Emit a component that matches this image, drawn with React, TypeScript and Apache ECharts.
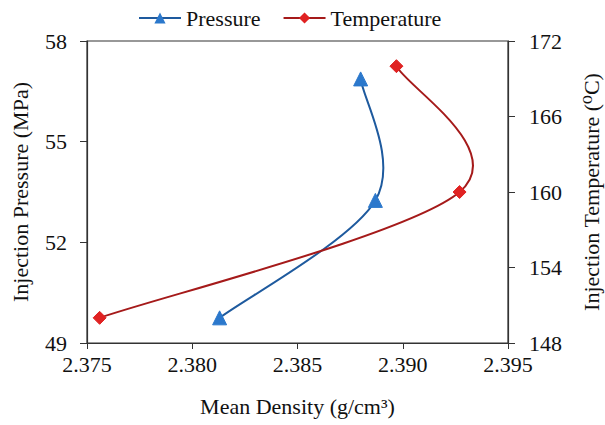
import React, { useEffect, useRef } from "react";
import * as echarts from "echarts";

const pressureDensity = [2.3813, 2.3887, 2.388];
const pressureValues = [49.75, 53.25, 56.87];
const temperatureDensity = [2.3756, 2.3927, 2.3897];
const temperatureValues = [150, 160, 170];
const xTicks = { min: 2.375, max: 2.395, interval: 0.005 };
const leftTicks = { min: 49, max: 58, interval: 3 };
const rightTicks = { min: 148, max: 172, interval: 6 };

const FONT = "Times New Roman, Liberation Serif, Tinos, DejaVu Serif, serif";

const PRESSURE_LINE = "#1E5A9E";
const PRESSURE_MARK = "#2B78CC";
const TEMP_LINE = "#A51A1A";
const TEMP_MARK = "#E02222";

// Excel-like smoothed curve through the points (pixel space)
function smoothPath(pts: number[][]): string {
  const n = pts.length;
  let d = `M${pts[0][0]},${pts[0][1]}`;
  for (let i = 0; i < n - 1; i++) {
    const p0 = pts[Math.max(0, i - 1)];
    const p1 = pts[i];
    const p2 = pts[i + 1];
    const p3 = pts[Math.min(n - 1, i + 2)];
    const c1x = p1[0] + (p2[0] - p0[0]) / 6;
    const c1y = p1[1] + (p2[1] - p0[1]) / 6;
    const c2x = p2[0] - (p3[0] - p1[0]) / 6;
    const c2y = p2[1] - (p3[1] - p1[1]) / 6;
    d += ` C${c1x},${c1y} ${c2x},${c2y} ${p2[0]},${p2[1]}`;
  }
  return d;
}

function curveSeries(xs: number[], ys: number[], yAxisIndex: number, color: string) {
  return {
    type: "custom",
    coordinateSystem: "cartesian2d",
    yAxisIndex,
    silent: true,
    z: 1,
    encode: { x: 0, y: 1 },
    data: xs.map((x, i) => [x, ys[i]]),
    renderItem: (params: any, api: any) => {
      if (params.dataIndex !== 0) return null;
      const pts = xs.map((x, i) => api.coord([x, ys[i]]));
      return {
        type: "path",
        shape: { pathData: smoothPath(pts) },
        style: { fill: "none", stroke: color, lineWidth: 2 },
      };
    },
  };
}

export default function App() {
  const ref = useRef<HTMLDivElement>(null);
  useEffect(() => {
    if (!ref.current) return;
    const chart = echarts.init(ref.current, null, { renderer: "svg" });
    const axisLine = { show: true, lineStyle: { color: "#333", width: 1.2 } };
    const label = { color: "#111", fontFamily: FONT, fontSize: 22 };
    const nameStyle = { fontFamily: FONT, fontSize: 22, color: "#111" };
    chart.setOption({
      animation: false,
      backgroundColor: "#fff",
      textStyle: { fontFamily: FONT },
      legend: {
        top: 2,
        left: 133,
        itemWidth: 42,
        itemHeight: 14,
        itemGap: 22,
        textStyle: { fontFamily: FONT, fontSize: 22, color: "#111" },
        data: [
          { name: "Pressure", lineStyle: { color: PRESSURE_LINE, width: 2, opacity: 1 } },
          { name: "Temperature", lineStyle: { color: TEMP_LINE, width: 2, opacity: 1 } },
        ],
      },
      grid: {
        left: 87,
        right: 97,
        top: 41,
        bottom: 82,
        containLabel: false,
        outerBoundsMode: "none",
        show: true,
        borderColor: "#333",
        borderWidth: 1.2,
        backgroundColor: "transparent",
      },
      xAxis: {
        type: "value",
        min: xTicks.min,
        max: xTicks.max,
        interval: xTicks.interval,
        axisLine,
        axisTick: { show: true, inside: false, length: 6, lineStyle: { color: "#333" } },
        splitLine: { show: false },
        axisLabel: { ...label, margin: 10, formatter: (v: number) => v.toFixed(3) },
        name: "Mean Density (g/cm³)",
        nameLocation: "middle",
        nameGap: 52,
        nameTextStyle: nameStyle,
      },
      yAxis: [
        {
          type: "value",
          position: "left",
          min: leftTicks.min,
          max: leftTicks.max,
          interval: leftTicks.interval,
          axisLine,
          axisTick: { show: true, length: 7, lineStyle: { color: "#333" } },
          splitLine: { show: false },
          axisLabel: { ...label, margin: 20 },
          name: "Injection Pressure (MPa)",
          nameLocation: "middle",
          nameRotate: 90,
          nameGap: 56,
          nameTextStyle: nameStyle,
        },
        {
          type: "value",
          position: "right",
          min: rightTicks.min,
          max: rightTicks.max,
          interval: rightTicks.interval,
          axisLine,
          axisTick: { show: true, length: 7, lineStyle: { color: "#333" } },
          splitLine: { show: false },
          axisLabel: { ...label, margin: 21 },
          name: "Injection Temperature (⁰C)",
          nameLocation: "middle",
          nameRotate: 90,
          nameGap: 72,
          nameTextStyle: nameStyle,
        },
      ],
      series: [
        curveSeries(pressureDensity, pressureValues, 0, PRESSURE_LINE),
        curveSeries(temperatureDensity, temperatureValues, 1, TEMP_LINE),
        {
          name: "Pressure",
          type: "line",
          yAxisIndex: 0,
          z: 3,
          symbol: "triangle",
          symbolSize: 14,
          lineStyle: { color: PRESSURE_LINE, width: 2, opacity: 0 },
          itemStyle: { color: PRESSURE_MARK, borderColor: PRESSURE_MARK },
          data: pressureDensity.map((x, i) => [x, pressureValues[i]]),
        },
        {
          name: "Temperature",
          type: "line",
          yAxisIndex: 1,
          z: 3,
          symbol: "diamond",
          symbolSize: 13,
          lineStyle: { color: TEMP_LINE, width: 2, opacity: 0 },
          itemStyle: { color: TEMP_MARK, borderColor: TEMP_MARK },
          data: temperatureDensity.map((x, i) => [x, temperatureValues[i]]),
        },
      ],
    });
    return () => chart.dispose();
  }, []);
  return (
    <div
      ref={ref}
      style={{ position: "fixed", left: 0, top: 0, width: 605, height: 425 }}
    />
  );
}
